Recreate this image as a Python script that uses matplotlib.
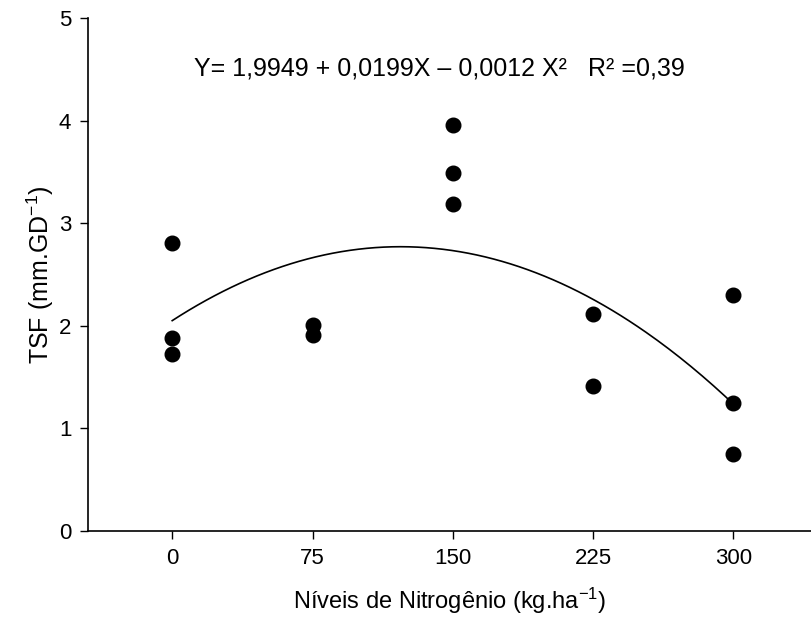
import numpy as np
import matplotlib
matplotlib.use("Agg")
import matplotlib.pyplot as plt

plt.rcParams['font.family'] = ['Liberation Sans', 'DejaVu Sans']
plt.rcParams['mathtext.default'] = 'regular'

# observed points (N level, TSF)
n_levels = [0, 0, 0, 75, 75, 150, 150, 150, 225, 225, 300, 300, 300]
tsf = [2.81, 1.88, 1.72, 2.01, 1.91, 3.96, 3.49, 3.19, 2.11, 1.41, 2.30, 1.25, 0.75]

# quadratic trend as drawn (intercept, linear, quadratic)
coef_c = 2.05
coef_b = 0.01181
coef_a = -4.84e-5

x_ticks = [0, 75, 150, 225, 300]
y_ticks = [0, 1, 2, 3, 4, 5]
equation = "Y= 1,9949 + 0,0199X \u2013 0,0012 X\u00b2   R\u00b2 =0,39"

fig = plt.figure(figsize=(8.12, 6.19), dpi=100)
ax = fig.add_axes([0.1084, 0.1422, 0.8916, 0.8288])

xs = np.linspace(0, 300, 200)
ax.plot(xs, coef_c + coef_b * xs + coef_a * xs ** 2, color='black', lw=1.2)
ax.plot(n_levels, tsf, 'o', color='black', markersize=10.5, clip_on=False)

ax.set_xlim(-45, 342)
ax.set_ylim(0, 5)
ax.set_xticks(x_ticks)
ax.set_yticks(y_ticks)
ax.spines['top'].set_visible(False)
ax.spines['right'].set_visible(False)
ax.spines['left'].set_linewidth(1.2)
ax.spines['bottom'].set_linewidth(1.2)
ax.tick_params(direction='out', length=6, width=1, labelsize=16, pad=6)

ax.text(143, 4.51, equation, ha='center', va='center', fontsize=18)
ax.set_xlabel("N\u00edveis de Nitrog\u00eanio (kg.ha$^{-1}$)", fontsize=17, labelpad=12)
ax.set_ylabel("TSF (mm.GD$^{-1}$)", fontsize=18, labelpad=2)

fig.savefig("out.png", dpi=100)
